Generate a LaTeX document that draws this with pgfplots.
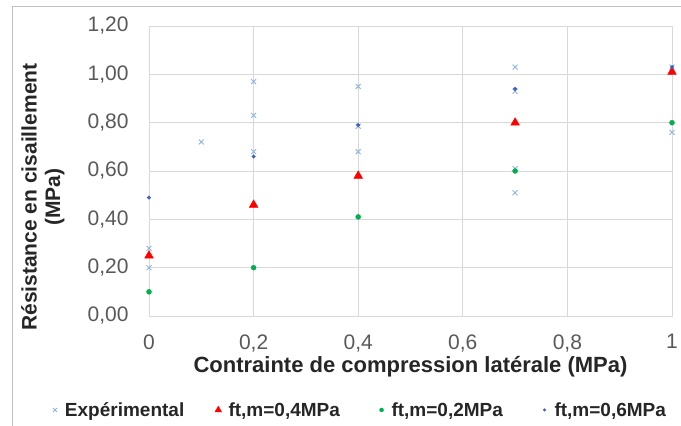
\documentclass[border=0pt]{standalone}
\usepackage{fontspec}
\setmainfont{Liberation Sans}
\usepackage{pgfplots}
\pgfplotsset{compat=1.18}
\definecolor{expc}{HTML}{8DB3E2}
\definecolor{redc}{HTML}{FF0000}
\definecolor{greenc}{HTML}{00B050}
\definecolor{bluec}{HTML}{3F5FBF}
\definecolor{gridc}{HTML}{D9D9D9}
\definecolor{tickc}{HTML}{595959}
\definecolor{labc}{HTML}{262626}
\begin{document}
\begin{tikzpicture}
\useasboundingbox (0pt,0pt) rectangle (681pt,426pt);
\draw[black!25, line width=1pt] (12pt,0pt) -- (12pt,419pt) -- (681pt,419pt);
\begin{axis}[
  at={(149pt,110pt)}, anchor=south west,
  scale only axis, width=523pt, height=290pt,
  xmin=0, xmax=1, ymin=0, ymax=1.2,
  xtick={0,0.2,0.4,0.6,0.8,1},
  ytick={0,0.2,0.4,0.6,0.8,1.0,1.2},
  major tick length=0pt,
  grid=major,
  grid style={gridc, line width=0.8pt},
  axis line style={gridc, line width=0.8pt},
  /pgf/number format/assume math mode=true,
  tick label style={font=\fontsize{21}{23}\selectfont, text=tickc},
  xticklabel style={yshift=-15pt, /pgf/number format/.cd, use comma, fixed},
  yticklabel style={xshift=-17pt, /pgf/number format/.cd, use comma, fixed, fixed zerofill, precision=2},
  xlabel={Contrainte de compression latérale (MPa)},
  ylabel={Résistance en cisaillement\\(MPa)},
  xlabel style={font=\bfseries\fontsize{22}{24}\selectfont, text=labc, at={(axis description cs:0.5,-0.176)}, anchor=center},
  ylabel style={font=\bfseries\fontsize{21}{23.5}\selectfont, text=labc, at={(axis description cs:-0.203,0.41)}, anchor=center, align=center},
  legend columns=4,
  legend style={at={(axis description cs:-0.1855,-0.324)}, anchor=west, draw=none, fill=none,
    inner sep=0pt, outer sep=0pt,
    font=\bfseries\fontsize{19}{21}\selectfont, text=labc,
    column sep=0pt, nodes={inner sep=4pt}},
  /tikz/every odd column/.append style={column sep=3pt},
  /tikz/every even column/.append style={column sep=0pt},
  legend image code/.code={\path[draw=none,fill=none] (-3pt,-3pt) rectangle (3pt,3pt);\draw[only marks,#1] plot coordinates {(0pt,0pt)};},
  clip=false,
]
\addplot[only marks, mark=x, mark size=3.5pt, draw=expc, line width=0.9pt,
  legend image post style={mark size=2.8pt}] coordinates {
  (0,0.28) (0,0.20) (0.1,0.72) (0.2,0.97) (0.2,0.83) (0.2,0.68)
  (0.4,0.95) (0.4,0.785) (0.4,0.68)
  (0.7,1.03) (0.7,0.93) (0.7,0.61) (0.7,0.51)
  (1,1.03) (1,0.76)};
\addlegendentry{\makebox[146pt][l]{Expérimental}}
\addplot[only marks, mark=triangle*, mark size=5pt, draw=redc, fill=redc,
  legend image post style={mark size=3.8pt}] coordinates {
  (0,0.25) (0.2,0.46) (0.4,0.58) (0.7,0.80) (1,1.01)};
\addlegendentry{\makebox[146pt][l]{ft,m=0,4MPa}}
\addplot[only marks, mark=*, mark size=2.5pt, draw=greenc, fill=greenc,
  legend image post style={mark size=2pt}] coordinates {
  (0,0.10) (0.2,0.20) (0.4,0.41) (0.7,0.60) (1,0.80)};
\addlegendentry{\makebox[146pt][l]{ft,m=0,2MPa}}
\addplot[only marks, mark=*, mark size=1.8pt, draw=bluec, fill=bluec,
  legend image post style={mark size=1.3pt}] coordinates {
  (0,0.49) (0.2,0.66) (0.4,0.79) (0.7,0.94) (1,1.03)};
\addlegendentry{ft,m=0,6MPa}
\end{axis}
\end{tikzpicture}
\end{document}
